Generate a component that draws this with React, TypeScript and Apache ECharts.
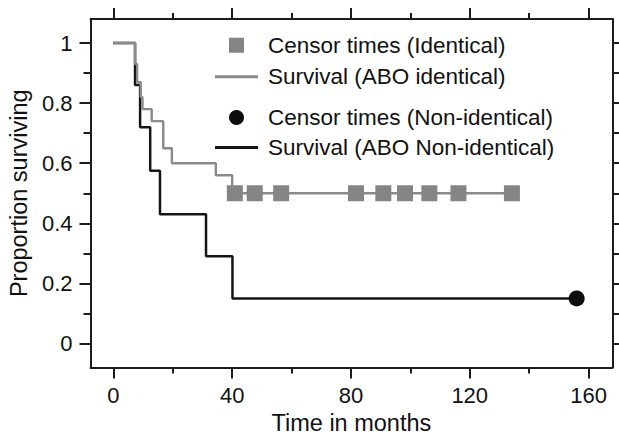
import React, { useEffect, useRef } from "react";
import * as echarts from "echarts";

// ---- data ----
const identicalTimes = [0, 7.3, 8, 9.2, 9.8, 12.9, 16.8, 19.7, 34.5, 40, 134.2];
const identicalSurvival = [1, 0.93, 0.87, 0.82, 0.78, 0.74, 0.65, 0.6, 0.56, 0.5, 0.5];
const identicalCensorTimes = [40.9, 47.6, 56.5, 81.7, 90.9, 98.2, 106.4, 116.2, 134.2];
const identicalCensorSurvival = [0.5, 0.5, 0.5, 0.5, 0.5, 0.5, 0.5, 0.5, 0.5];

const nonIdenticalTimes = [0, 7.3, 9, 12.4, 15.7, 31.2, 40.1, 156];
const nonIdenticalSurvival = [1, 0.86, 0.72, 0.575, 0.43, 0.29, 0.15, 0.15];
const nonIdenticalCensorTimes = [156];
const nonIdenticalCensorSurvival = [0.15];

const xTicks = [0, 40, 80, 120, 160];
const xMinorTicks = [20, 60, 100, 140];
const yTicks = [0, 0.2, 0.4, 0.6, 0.8, 1];
const yMinorTicks = [0.1, 0.3, 0.5, 0.7, 0.9];

const NAME_CENSOR_ID = "Censor times (Identical)";
const NAME_SURV_ID = "Survival (ABO identical)";
const NAME_CENSOR_NON = "Censor times (Non-identical)";
const NAME_SURV_NON = "Survival (ABO Non-identical)";

const FONT = "'Liberation Sans', Arial, Helvetica, sans-serif";
const AXIS_COLOR = "#1c1c1c";
const GRAY = "#8a8a8a";
const BLACK = "#151515";

const zip = (a: number[], b: number[]) => a.map((v, i) => [v, b[i]]);

export default function App() {
  const ref = useRef<HTMLDivElement>(null);

  useEffect(() => {
    if (!ref.current) return;
    const chart = echarts.init(ref.current, undefined, { renderer: "svg" });

    const X_MIN = -7.7;
    const X_MAX = 168;
    const Y_MIN = -0.08;
    const Y_MAX = 1.08;

    const lineStyle = { color: AXIS_COLOR, width: 2 };

    const xAxisBase = {
      type: "value" as const,
      min: X_MIN,
      max: X_MAX,
      splitLine: { show: false },
    };
    const yAxisBase = {
      type: "value" as const,
      min: Y_MIN,
      max: Y_MAX,
      splitLine: { show: false },
    };

    const legendText = {
      fontSize: 22.5,
      lineHeight: 22.5,
      color: "#111",
      fontFamily: FONT,
      padding: [0, 0, 0, 5],
    };

    const option: any = {
      animation: false,
      backgroundColor: "#ffffff",
      textStyle: { fontFamily: FONT },
      grid: {
        left: 90.5,
        right: 6.7,
        top: 19,
        bottom: 67.5,
        containLabel: false,
        outerBoundsMode: "none",
      },
      legend: [
        {
          orient: "vertical",
          left: 215,
          top: 33.75,
          padding: 0,
          itemWidth: 43,
          itemHeight: 15,
          itemGap: 8.5,
          selectedMode: false,
          textStyle: legendText,
          data: [
            { name: NAME_CENSOR_ID, icon: "path://M0,0H10V10H0Z", itemStyle: { color: "#858585", opacity: 1 } },
            { name: NAME_SURV_ID, icon: "path://M0,0H43V2.8H0Z", itemStyle: { color: GRAY, borderWidth: 0 } },
          ],
        },
        {
          orient: "vertical",
          left: 215,
          top: 106.05,
          padding: 0,
          itemWidth: 43,
          itemHeight: 15,
          itemGap: 6.9,
          selectedMode: false,
          textStyle: legendText,
          data: [
            { name: NAME_CENSOR_NON, icon: "circle", itemStyle: { color: "#0d0d0d", opacity: 1 } },
            { name: NAME_SURV_NON, icon: "path://M0,0H43V2.9H0Z", itemStyle: { color: BLACK, borderWidth: 0 } },
          ],
        },
      ],
      xAxis: [
        {
          ...xAxisBase,
          position: "bottom",
          axisLine: { show: true, onZero: false, lineStyle },
          axisTick: { show: true, customValues: xTicks, length: 11, lineStyle },
          axisLabel: { show: true, customValues: xTicks, margin: 17, fontSize: 22, color: "#111", fontFamily: FONT },
          name: "Time in months",
          nameLocation: "middle",
          nameGap: 41,
          nameTextStyle: { fontSize: 23.5, color: "#111", fontFamily: FONT },
        },
        {
          ...xAxisBase,
          position: "bottom",
          axisLine: { show: false, onZero: false },
          axisTick: { show: true, customValues: xMinorTicks, length: 6, lineStyle },
          axisLabel: { show: false },
        },
        {
          ...xAxisBase,
          position: "top",
          axisLine: { show: true, onZero: false, lineStyle },
          axisTick: { show: true, customValues: xTicks, length: 11, lineStyle },
          axisLabel: { show: false },
        },
        {
          ...xAxisBase,
          position: "top",
          axisLine: { show: false, onZero: false },
          axisTick: { show: true, customValues: xMinorTicks, length: 6, lineStyle },
          axisLabel: { show: false },
        },
      ],
      yAxis: [
        {
          ...yAxisBase,
          position: "left",
          axisLine: { show: true, onZero: false, lineStyle },
          axisTick: { show: true, customValues: yTicks, length: 11, lineStyle },
          axisLabel: { show: true, customValues: yTicks, margin: 18, fontSize: 22, color: "#111", fontFamily: FONT },
          name: "Proportion surviving",
          nameLocation: "middle",
          nameGap: 53,
          nameTextStyle: { fontSize: 23.5, color: "#111", fontFamily: FONT },
        },
        {
          ...yAxisBase,
          position: "left",
          axisLine: { show: false, onZero: false },
          axisTick: { show: true, customValues: yMinorTicks, length: 7, lineStyle },
          axisLabel: { show: false },
        },
        {
          ...yAxisBase,
          position: "right",
          axisLine: { show: true, onZero: false, lineStyle },
          axisTick: { show: true, customValues: yTicks, length: 11, lineStyle },
          axisLabel: { show: false },
        },
        {
          ...yAxisBase,
          position: "right",
          axisLine: { show: false, onZero: false },
          axisTick: { show: true, customValues: yMinorTicks, length: 7, lineStyle },
          axisLabel: { show: false },
        },
      ],
      series: [
        {
          name: NAME_SURV_NON,
          type: "line",
          step: "end",
          xAxisIndex: 0,
          yAxisIndex: 0,
          symbol: "none",
          data: zip(nonIdenticalTimes, nonIdenticalSurvival),
          lineStyle: { color: BLACK, width: 2.5 },
          itemStyle: { color: BLACK, borderWidth: 0 },
          z: 2,
        },
        {
          name: NAME_SURV_ID,
          type: "line",
          step: "end",
          xAxisIndex: 0,
          yAxisIndex: 0,
          symbol: "none",
          data: zip(identicalTimes, identicalSurvival),
          lineStyle: { color: GRAY, width: 2.4 },
          itemStyle: { color: GRAY, borderWidth: 0 },
          z: 3,
        },
        {
          name: NAME_CENSOR_ID,
          type: "scatter",
          xAxisIndex: 0,
          yAxisIndex: 0,
          symbol: "rect",
          symbolSize: 16,
          data: zip(identicalCensorTimes, identicalCensorSurvival),
          itemStyle: { color: "#858585", opacity: 1 },
          z: 4,
        },
        {
          name: NAME_CENSOR_NON,
          type: "scatter",
          xAxisIndex: 0,
          yAxisIndex: 0,
          symbol: "circle",
          symbolSize: 16,
          data: zip(nonIdenticalCensorTimes, nonIdenticalCensorSurvival),
          itemStyle: { color: "#0d0d0d", opacity: 1 },
          z: 4,
        },
      ],
    };

    chart.setOption(option);
    return () => {
      chart.dispose();
    };
  }, []);

  return (
    <div
      ref={ref}
      style={{ position: "absolute", left: 0, top: 0, width: 619, height: 435 }}
    />
  );
}
